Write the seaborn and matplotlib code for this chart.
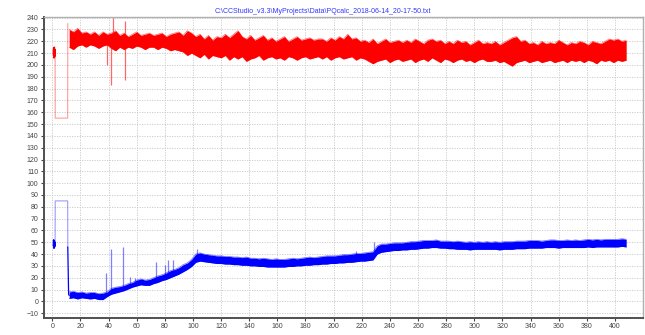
import numpy as np
import matplotlib
matplotlib.use("Agg")
import matplotlib.pyplot as plt
import seaborn as sns

title = r"C:\CCStudio_v3.3\MyProjects\Data\PQcalc_2018-06-14_20-17-50.txt"

# main band sample grid (s) and read-off upper / lower edges of the noisy traces
grid = np.arange(12, 411, 3)

red_hi = [230, 228, 231, 227, 228, 226, 228, 225, 228, 226,
          227, 229, 225, 227, 224, 226, 228, 225, 226, 227,
          225, 226, 227, 224, 226, 227, 228, 225, 229, 227,
          224, 226, 222, 225, 221, 224, 223, 226, 223, 226,
          229, 224, 222, 225, 221, 223, 225, 221, 223, 220,
          222, 224, 220, 222, 224, 221, 222, 223, 221, 222,
          222, 220, 223, 221, 224, 222, 226, 222, 223, 220,
          221, 219, 222, 218, 220, 222, 219, 220, 221, 219,
          221, 219, 222, 220, 218, 221, 222, 220, 221, 218,
          220, 218, 221, 219, 220, 217, 219, 221, 218, 219,
          218, 220, 217, 219, 221, 223, 224, 220, 221, 218,
          219, 217, 220, 218, 219, 218, 221, 219, 217, 219,
          218, 220, 219, 217, 220, 219, 218, 220, 222, 221,
          222, 220, 221]
red_lo = [215, 213, 216, 217, 215, 217, 216, 214, 216, 217,
          214, 212, 215, 213, 215, 214, 216, 215, 213, 215,
          215, 213, 215, 214, 212, 213, 212, 211, 208, 210,
          208, 206, 209, 205, 208, 207, 206, 208, 204, 207,
          205, 207, 203, 205, 206, 208, 204, 206, 207, 205,
          206, 204, 207, 206, 204, 206, 207, 205, 206, 207,
          205, 207, 204, 206, 207, 205, 206, 207, 204, 206,
          205, 203, 201, 203, 204, 205, 202, 204, 205, 203,
          204, 205, 202, 204, 205, 203, 206, 204, 202, 205,
          204, 202, 204, 205, 203, 204, 202, 204, 205, 203,
          203, 204, 202, 203, 201, 199, 202, 203, 204, 202,
          203, 204, 202, 203, 204, 202, 203, 204, 202, 204,
          203, 204, 202, 204, 203, 201, 204, 203, 204, 202,
          204, 203, 204]

blue_hi = [8, 8.5, 7.5, 8, 7, 7.5, 7.5, 6.5, 7, 8,
           11, 12, 12.5, 13.5, 15, 16, 18, 19, 18, 18.5,
           20, 21.5, 22.5, 24, 26, 27, 28.5, 31, 32.5, 35.5,
           40, 41, 40, 39.5, 39, 38.5, 38.5, 38, 38, 37.5,
           37.5, 37, 37.5, 36.5, 36.5, 36, 36.5, 36, 35.5, 36,
           35.5, 35.5, 36, 36.5, 36, 36.5, 37, 37.5, 37, 37.5,
           38, 38.5, 38.5, 38.5, 39, 39.5, 39.5, 40, 40.5, 40.5,
           41, 41.5, 42, 47, 48.5, 48.5, 49, 49.5, 49.5, 49.5,
           50, 50.5, 50.5, 51, 51.5, 51.5, 51.5, 52, 51, 51,
           51, 50.5, 51, 50.5, 50, 50.5, 50, 50.5, 50, 50.5,
           50, 50.5, 50, 50.5, 50.5, 50.5, 51, 51, 51, 51.5,
           51.5, 51.5, 51, 51.5, 52, 52, 51.5, 51.5, 52, 51.5,
           52, 51.5, 52, 52.5, 52, 52.5, 52, 52.5, 52.5, 52.5,
           52.5, 53, 52.5]
blue_lo = [2.5, 3, 2, 3, 2.5, 2, 2.5, 1.5, 1.5, 4,
           6, 7, 8, 9, 10.5, 12, 13, 14, 13.5, 13.5,
           15, 16, 17.5, 18.5, 20, 21.5, 23, 25, 27, 29.5,
           33, 34, 33.5, 33, 32.5, 32, 32, 31.5, 31.5, 31,
           31, 30.5, 30.5, 30, 30, 29.5, 29.5, 29, 29, 29,
           29, 29, 29.5, 29.5, 30, 30, 30.5, 30.5, 31, 31,
           31.5, 31.5, 32, 32, 32.5, 32.5, 33, 33, 33.5, 34,
           34, 34.5, 35, 40, 41.5, 42, 42.5, 43, 43, 43.5,
           43.5, 44, 44, 44.5, 45, 45, 45.5, 45.5, 45, 45,
           44.5, 44.5, 44, 44, 44, 43.5, 44, 44, 44, 44,
           44, 44, 43.5, 44, 44, 44, 44.5, 44.5, 44.5, 45,
           45, 45, 45, 45.5, 45.5, 45.5, 45, 45.5, 45.5, 45.5,
           45.5, 45.5, 45.5, 46, 45.5, 46, 46, 46, 46, 46,
           46, 46.5, 46]

# first short burst before the gap
head_x = [0.8, 1.0, 1.2, 1.4, 1.6, 1.8, 2.0]
red_head = [209, 214, 206, 215, 207, 213, 208]
blue_head = [47, 52, 45, 51, 46, 50, 48]

# gap (no data) drawn as a pale step
gap_x = [2.0, 2.1, 10.9, 11.0]
red_gap = [208, 155, 155, 235]
blue_gap = [48, 85, 85, 46]

# restart of the blue trace
blue_start_x = [11.0, 11.3, 11.6, 12.0]
blue_start_y = [46, 26, 6, 5]

# single-sample spikes: position, band level, peak
red_spk_x = [39, 42, 43, 51.5, 52]
red_spk_base = [221, 220, 220, 220, 220]
red_spk_peak = [200, 183, 240, 237, 187]
blue_spk_x = [38, 41.5, 50.5, 55, 59, 74, 80, 82, 86, 103, 216, 229]
blue_spk_base = [6, 9, 12, 14, 15, 19, 22, 23, 25, 37, 37, 40]
blue_spk_peak = [24, 44, 46, 21, 20, 33, 31, 35, 35, 44, 43, 50]

sns.set_style("white")
plt.rcParams['font.family'] = ['Liberation Sans', 'DejaVu Sans']

fig = plt.figure(figsize=(6.45, 3.35), dpi=100)
ax = fig.add_axes([0.068, 0.051, 0.929, 0.898])

for hi, lo, col in [(red_hi, red_lo, "#ff0000"), (blue_hi, blue_lo, "#0000ff")]:
    ax.fill_between(grid, lo, hi, color=col, lw=0)
    sns.lineplot(x=grid, y=hi, ax=ax, color=col, lw=0.5, alpha=0.6, estimator=None)
    sns.lineplot(x=grid, y=lo, ax=ax, color=col, lw=0.5, alpha=0.6, estimator=None)

sns.lineplot(x=head_x, y=red_head, ax=ax, color="#ff0000", lw=1.2, sort=False, estimator=None)
sns.lineplot(x=head_x, y=blue_head, ax=ax, color="#0000ff", lw=1.2, sort=False, estimator=None)
ax.plot(gap_x, red_gap, color="#ff0000", alpha=0.35, lw=0.9)
ax.plot(gap_x, blue_gap, color="#0000ff", alpha=0.35, lw=0.9)
ax.plot(blue_start_x, blue_start_y, color="#0000ff", lw=0.9)

ax.vlines(red_spk_x, red_spk_base, red_spk_peak, color="#ff0000", alpha=0.6, lw=0.9)
ax.vlines(blue_spk_x, blue_spk_base, blue_spk_peak, color="#0000ff", alpha=0.5, lw=0.9)

ax.set_xlim(-6, 420)
ax.set_ylim(-14, 240.5)
ax.set_xticks(np.arange(0, 401, 20))
ax.set_yticks(np.arange(-10, 241, 10))
ax.grid(True, color="#c8c8c8", ls=(0, (1.5, 1.5)), lw=0.6)
ax.tick_params(labelsize=5, colors="#444444", length=2, pad=2, left=True, bottom=True)

for side in ["left", "bottom"]:
    ax.spines[side].set_color("#505050")
    ax.spines[side].set_linewidth(1.4)
for side in ["top", "right"]:
    ax.spines[side].set_color("#b0b0b0")
    ax.spines[side].set_linewidth(1.0)

fig.text(0.5, 0.965, title, ha="center", va="center", fontsize=5, color="#3333ff")

fig.savefig("out.png", dpi=100)
